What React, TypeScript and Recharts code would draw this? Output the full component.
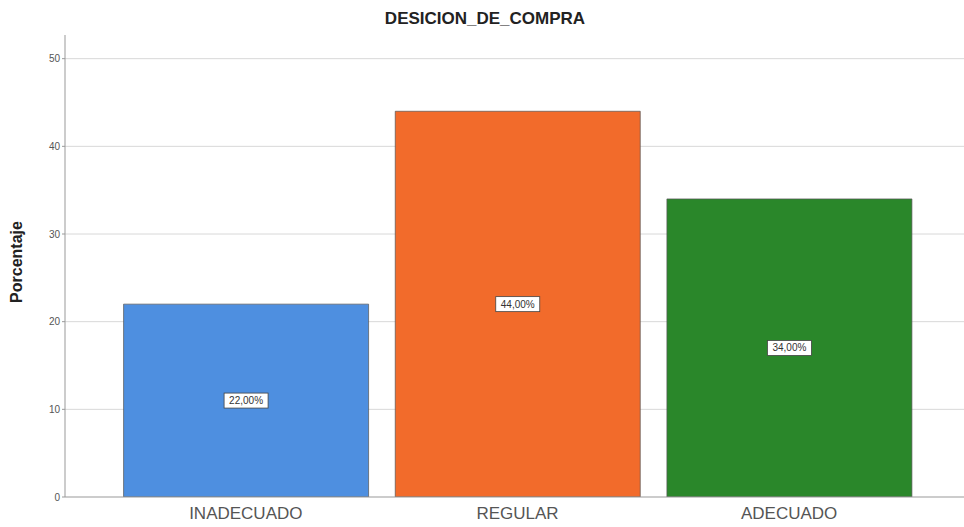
import { BarChart, Bar, XAxis, YAxis, CartesianGrid, Cell, LabelList, Label } from 'recharts';

const categorias = ['INADECUADO', 'REGULAR', 'ADECUADO'];
const porcentajes = [22, 44, 34];
const etiquetas = ['22,00%', '44,00%', '34,00%'];
const colores = ['#4e8fe0', '#f26b2b', '#2a872a'];
const ticksY = [0, 10, 20, 30, 40, 50];

const data = categorias.map((c, i) => ({ name: c, value: porcentajes[i], label: etiquetas[i] }));

// caja blanca con el porcentaje, al centro de la barra
const BoxLabel = (props: any) => {
  const { x, y, width, height, value } = props;
  const cx = x + width / 2;
  const cy = y + height / 2;
  const w = 44;
  const h = 15;
  return (
    <g>
      <rect x={cx - w / 2} y={cy - h / 2} width={w} height={h} fill="#fff" stroke="#444" strokeWidth={0.8} />
      <text x={cx} y={cy + 3.5} textAnchor="middle" fontSize={10} fill="#333" fontFamily="Liberation Sans, Arial">
        {value}
      </text>
    </g>
  );
};

export default function App() {
  return (
    <div style={{ position: 'absolute', left: 0, top: 0, width: 964, height: 527, background: '#fff', fontFamily: 'Liberation Sans, Arial' }}>
      <div style={{ position: 'absolute', top: 9, left: 0, width: 970, textAlign: 'center', fontWeight: 'bold', fontSize: 17, color: '#222' }}>
        DESICION_DE_COMPRA
      </div>
      <BarChart
        width={964}
        height={527}
        data={data}
        margin={{ top: 35, right: 0, bottom: 0, left: 0 }}
        barCategoryGap="5%"
      >
        {/* solo lineas en los ticks, sin borde arriba */}
        <CartesianGrid vertical={false} stroke="#d8d8d8" horizontalValues={ticksY.filter((t) => t > 0)} />
        <XAxis
          dataKey="name"
          height={30}
          padding={{ left: 45, right: 39 }}
          tickLine={false}
          axisLine={{ stroke: '#999' }}
          tick={{ fontSize: 17, fill: '#555' }}
          tickMargin={4}
        />
        <YAxis
          width={65}
          domain={[0, 52.7]}
          ticks={ticksY}
          allowDataOverflow
          tickSize={3}
          tickLine={{ stroke: '#999' }}
          axisLine={{ stroke: '#999' }}
          tick={{ fontSize: 10, fill: '#555' }}
        >
          <Label
            value="Porcentaje"
            angle={-90}
            position="insideLeft"
            offset={16}
            dy={-4}
            style={{ fontWeight: 'bold', fontSize: 16, fill: '#222', textAnchor: 'middle' }}
          />
        </YAxis>
        <Bar dataKey="value" isAnimationActive={false} stroke="#555" strokeWidth={0.7}>
          {data.map((d, i) => (
            <Cell key={d.name} fill={colores[i]} />
          ))}
          <LabelList dataKey="label" content={BoxLabel} />
        </Bar>
      </BarChart>
    </div>
  );
}
